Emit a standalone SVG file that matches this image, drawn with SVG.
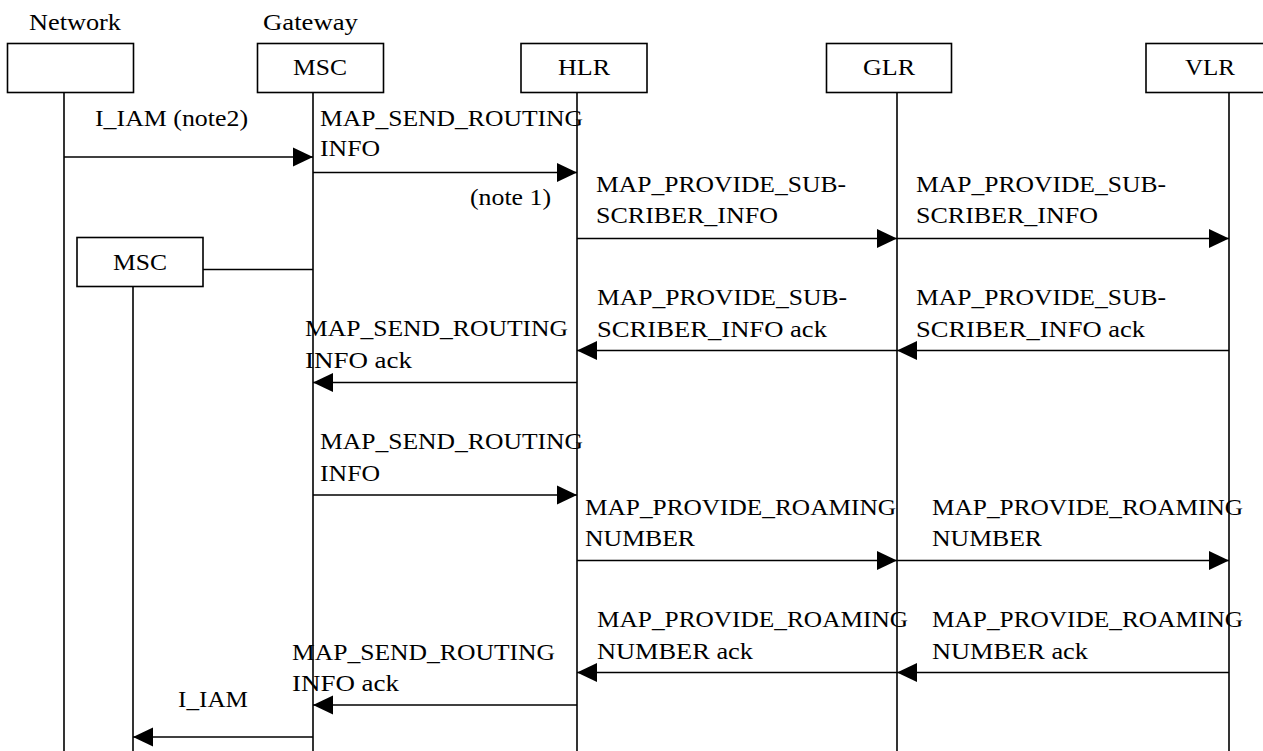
<svg xmlns="http://www.w3.org/2000/svg" width="1263" height="751" viewBox="0 0 1263 751">
<style>
text{font-family:"Liberation Serif","Times New Roman",serif;font-size:23px;fill:#000}
.box{fill:#fff;stroke:#000;stroke-width:1.6}
.life{stroke:#000;stroke-width:1.6;fill:none}
.msg{stroke:#000;stroke-width:1.7;fill:none;marker-end:url(#ah)}
.plain{stroke:#000;stroke-width:1.6;fill:none}
</style>
<defs>
<marker id="ah" markerUnits="userSpaceOnUse" markerWidth="20" markerHeight="20" refX="20" refY="9.5" orient="auto" viewBox="0 0 20 19">
<path d="M0,0 L20,9.5 L0,19 z" fill="#000"/>
</marker>
</defs>
<rect width="1263" height="751" fill="#fff"/>

<g id="node-network">
<text x="29" y="30" textLength="92" lengthAdjust="spacingAndGlyphs">Network</text>
<rect class="box" x="7.5" y="43.5" width="126" height="49"/>
<line class="life" x1="64" y1="92.5" x2="64" y2="751"/>
</g>
<g id="node-gmsc">
<text x="263" y="30" textLength="95" lengthAdjust="spacingAndGlyphs">Gateway</text>
<rect class="box" x="257.5" y="43.5" width="126" height="49"/>
<text x="293" y="75" textLength="54" lengthAdjust="spacingAndGlyphs">MSC</text>
<line class="life" x1="313" y1="92.5" x2="313" y2="751"/>
</g>
<g id="node-hlr">
<rect class="box" x="521" y="43.5" width="126" height="49"/>
<text x="558" y="75" textLength="52" lengthAdjust="spacingAndGlyphs">HLR</text>
<line class="life" x1="577" y1="92.5" x2="577" y2="751"/>
</g>
<g id="node-glr">
<rect class="box" x="826.5" y="43.5" width="125" height="49"/>
<text x="863" y="75" textLength="52" lengthAdjust="spacingAndGlyphs">GLR</text>
<line class="life" x1="897" y1="92.5" x2="897" y2="751"/>
</g>
<g id="node-vlr">
<rect class="box" x="1146" y="43.5" width="126" height="49"/>
<text x="1185" y="75" textLength="50" lengthAdjust="spacingAndGlyphs">VLR</text>
<line class="life" x1="1229" y1="92.5" x2="1229" y2="751"/>
</g>
<g id="node-msc2">
<rect class="box" x="77" y="237.5" width="126" height="49"/>
<text x="113" y="270" textLength="54" lengthAdjust="spacingAndGlyphs">MSC</text>
<line class="life" x1="133" y1="286.5" x2="133" y2="751"/>
</g>

<g id="connectors">
<line class="plain" x1="203" y1="269.5" x2="313" y2="269.5"/>
<line class="msg" x1="64" y1="157" x2="313" y2="157"/>
<line class="msg" x1="313" y1="172.5" x2="577" y2="172.5"/>
<line class="msg" x1="577" y1="238.5" x2="897" y2="238.5"/>
<line class="msg" x1="897" y1="238.5" x2="1229" y2="238.5"/>
<line class="msg" x1="897" y1="350.5" x2="577" y2="350.5"/>
<line class="msg" x1="1229" y1="350.5" x2="897" y2="350.5"/>
<line class="msg" x1="577" y1="382.5" x2="313" y2="382.5"/>
<line class="msg" x1="313" y1="495" x2="577" y2="495"/>
<line class="msg" x1="577" y1="560.5" x2="897" y2="560.5"/>
<line class="msg" x1="897" y1="560.5" x2="1229" y2="560.5"/>
<line class="msg" x1="897" y1="672.5" x2="577" y2="672.5"/>
<line class="msg" x1="1229" y1="672.5" x2="897" y2="672.5"/>
<line class="msg" x1="577" y1="705" x2="313" y2="705"/>
<line class="msg" x1="313" y1="737" x2="133" y2="737"/>
</g>

<g id="labels">
<text x="95" y="126" textLength="153" lengthAdjust="spacingAndGlyphs">I_IAM (note2)</text>
<text x="320" y="126" textLength="263" lengthAdjust="spacingAndGlyphs">MAP_SEND_ROUTING</text>
<text x="320" y="156" textLength="60" lengthAdjust="spacingAndGlyphs">INFO</text>
<text x="470" y="205" textLength="81" lengthAdjust="spacingAndGlyphs">(note 1)</text>
<text x="596" y="192" textLength="250" lengthAdjust="spacingAndGlyphs">MAP_PROVIDE_SUB-</text>
<text x="596" y="223" textLength="182" lengthAdjust="spacingAndGlyphs">SCRIBER_INFO</text>
<text x="916" y="192" textLength="250" lengthAdjust="spacingAndGlyphs">MAP_PROVIDE_SUB-</text>
<text x="916" y="223" textLength="182" lengthAdjust="spacingAndGlyphs">SCRIBER_INFO</text>
<text x="597" y="305" textLength="250" lengthAdjust="spacingAndGlyphs">MAP_PROVIDE_SUB-</text>
<text x="597" y="337" textLength="230" lengthAdjust="spacingAndGlyphs">SCRIBER_INFO ack</text>
<text x="916" y="305" textLength="250" lengthAdjust="spacingAndGlyphs">MAP_PROVIDE_SUB-</text>
<text x="916" y="337" textLength="229" lengthAdjust="spacingAndGlyphs">SCRIBER_INFO ack</text>
<text x="305" y="336" textLength="263" lengthAdjust="spacingAndGlyphs">MAP_SEND_ROUTING</text>
<text x="305" y="368" textLength="107" lengthAdjust="spacingAndGlyphs">INFO ack</text>
<text x="320" y="449" textLength="263" lengthAdjust="spacingAndGlyphs">MAP_SEND_ROUTING</text>
<text x="320" y="481" textLength="60" lengthAdjust="spacingAndGlyphs">INFO</text>
<text x="585" y="515" textLength="311" lengthAdjust="spacingAndGlyphs">MAP_PROVIDE_ROAMING</text>
<text x="585" y="546" textLength="110" lengthAdjust="spacingAndGlyphs">NUMBER</text>
<text x="932" y="515" textLength="311" lengthAdjust="spacingAndGlyphs">MAP_PROVIDE_ROAMING</text>
<text x="932" y="546" textLength="110" lengthAdjust="spacingAndGlyphs">NUMBER</text>
<text x="597" y="627" textLength="311" lengthAdjust="spacingAndGlyphs">MAP_PROVIDE_ROAMING</text>
<text x="597" y="659" textLength="156" lengthAdjust="spacingAndGlyphs">NUMBER ack</text>
<text x="932" y="627" textLength="311" lengthAdjust="spacingAndGlyphs">MAP_PROVIDE_ROAMING</text>
<text x="932" y="659" textLength="156" lengthAdjust="spacingAndGlyphs">NUMBER ack</text>
<text x="292" y="660" textLength="263" lengthAdjust="spacingAndGlyphs">MAP_SEND_ROUTING</text>
<text x="292" y="691" textLength="107" lengthAdjust="spacingAndGlyphs">INFO ack</text>
<text x="178" y="707" textLength="70" lengthAdjust="spacingAndGlyphs">I_IAM</text>
</g>
</svg>
